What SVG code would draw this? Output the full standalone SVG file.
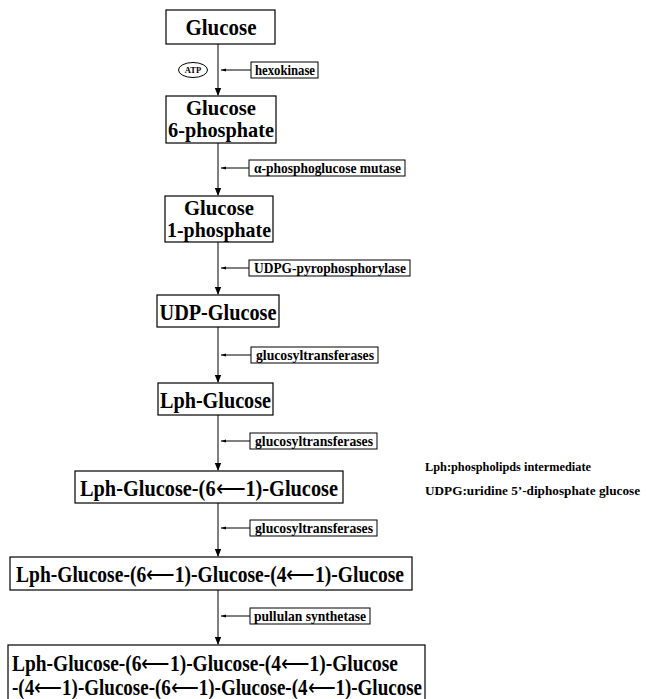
<svg xmlns="http://www.w3.org/2000/svg" width="646" height="699" viewBox="0 0 646 699">
<defs>
<marker id="ah" markerWidth="8" markerHeight="11" refX="7" refY="5" orient="auto" markerUnits="userSpaceOnUse">
<path d="M0,1.8 L8,5 L0,8.2 Z" fill="#000"/>
</marker>
<marker id="sh" markerWidth="6" markerHeight="6" refX="5" refY="3" orient="auto" markerUnits="userSpaceOnUse">
<path d="M0,1.6 L5,3 L0,4.4 Z" fill="#000"/>
</marker>
</defs>
<style>
.box{fill:#fff;stroke:#000;stroke-width:1.2}
.lbl{fill:#fff;stroke:#000;stroke-width:1}
.t{font-family:"Liberation Serif",serif;font-weight:bold;font-size:22.5px;fill:#000;text-anchor:middle}
.t2{font-size:21px}
.a{font-weight:normal}
.s{font-family:"Liberation Serif",serif;font-weight:bold;font-size:14px;fill:#000}
.ln{stroke:#000;stroke-width:1;fill:none}
</style>
<rect width="646" height="699" fill="#fff"/>
<g id="connectors">
<line class="ln" x1="218" y1="44" x2="218" y2="95" marker-end="url(#ah)"/>
<line class="ln" x1="218" y1="143" x2="218" y2="195" marker-end="url(#ah)"/>
<line class="ln" x1="218" y1="242" x2="218" y2="294" marker-end="url(#ah)"/>
<line class="ln" x1="218" y1="327" x2="218" y2="382" marker-end="url(#ah)"/>
<line class="ln" x1="218" y1="415" x2="218" y2="470" marker-end="url(#ah)"/>
<line class="ln" x1="218" y1="503" x2="218" y2="556" marker-end="url(#ah)"/>
<line class="ln" x1="218" y1="590" x2="218" y2="644" marker-end="url(#ah)"/>
<line class="ln" x1="251" y1="70" x2="221" y2="70" marker-end="url(#sh)"/>
<line class="ln" x1="249" y1="168" x2="221" y2="168" marker-end="url(#sh)"/>
<line class="ln" x1="249" y1="268" x2="221" y2="268" marker-end="url(#sh)"/>
<line class="ln" x1="251" y1="355" x2="221" y2="355" marker-end="url(#sh)"/>
<line class="ln" x1="250" y1="441" x2="221" y2="441" marker-end="url(#sh)"/>
<line class="ln" x1="250" y1="528" x2="221" y2="528" marker-end="url(#sh)"/>
<line class="ln" x1="250" y1="616" x2="221" y2="616" marker-end="url(#sh)"/>
</g>
<g id="glucose">
<rect class="box" x="166" y="10" width="109" height="34"/>
<text class="t" x="221" y="35" textLength="71" lengthAdjust="spacingAndGlyphs">Glucose</text>
</g>
<g id="atp">
<ellipse cx="193" cy="70" rx="14.5" ry="7.5" fill="#fff" stroke="#000" stroke-width="1"/>
<text x="193" y="73" font-family="Liberation Serif,serif" font-weight="bold" font-size="8.5" text-anchor="middle">ATP</text>
</g>
<g id="hexokinase">
<rect class="lbl" x="251" y="62" width="67" height="16"/>
<text class="s" x="255" y="75" textLength="60" lengthAdjust="spacingAndGlyphs">hexokinase</text>
</g>
<g id="g6p">
<rect class="box" x="166" y="96" width="110" height="47"/>
<text class="t t2" x="221" y="115" textLength="70" lengthAdjust="spacingAndGlyphs">Glucose</text>
<text class="t t2" x="221" y="137" textLength="106" lengthAdjust="spacingAndGlyphs">6-phosphate</text>
</g>
<g id="mutase">
<rect class="lbl" x="249" y="160" width="156" height="16"/>
<text class="s" x="254" y="173" textLength="147" lengthAdjust="spacingAndGlyphs">α-phosphoglucose mutase</text>
</g>
<g id="g1p">
<rect class="box" x="165" y="196" width="108" height="46"/>
<text class="t t2" x="219" y="215" textLength="70" lengthAdjust="spacingAndGlyphs">Glucose</text>
<text class="t t2" x="219" y="237" textLength="104" lengthAdjust="spacingAndGlyphs">1-phosphate</text>
</g>
<g id="udpgpp">
<rect class="lbl" x="249" y="260" width="161" height="16"/>
<text class="s" x="254" y="273" textLength="152" lengthAdjust="spacingAndGlyphs">UDPG-pyrophosphorylase</text>
</g>
<g id="udpglucose">
<rect class="box" x="157" y="295" width="122" height="32"/>
<text class="t" x="218" y="320" textLength="117" lengthAdjust="spacingAndGlyphs">UDP-Glucose</text>
</g>
<g id="gt1">
<rect class="lbl" x="251" y="347" width="127" height="16"/>
<text class="s" x="256" y="360" textLength="118" lengthAdjust="spacingAndGlyphs">glucosyltransferases</text>
</g>
<g id="lphglucose">
<rect class="box" x="158" y="383" width="115" height="32"/>
<text class="t" x="215.5" y="408" textLength="111" lengthAdjust="spacingAndGlyphs">Lph-Glucose</text>
</g>
<g id="gt2">
<rect class="lbl" x="250" y="433" width="127" height="16"/>
<text class="s" x="255" y="446" textLength="118" lengthAdjust="spacingAndGlyphs">glucosyltransferases</text>
</g>
<g id="lph2">
<rect class="box" x="75" y="471" width="268" height="32"/>
<text class="t" x="80" y="496" style="text-anchor:start" textLength="258" lengthAdjust="spacingAndGlyphs">Lph-Glucose-(6<tspan class="a">⟵</tspan>1)-Glucose</text>
</g>
<g id="gt3">
<rect class="lbl" x="250" y="520" width="127" height="16"/>
<text class="s" x="255" y="533" textLength="118" lengthAdjust="spacingAndGlyphs">glucosyltransferases</text>
</g>
<g id="lph3">
<rect class="box" x="10" y="557" width="402" height="33"/>
<text class="t" x="16" y="582" style="text-anchor:start" textLength="388" lengthAdjust="spacingAndGlyphs">Lph-Glucose-(6<tspan class="a">⟵</tspan>1)-Glucose-(4<tspan class="a">⟵</tspan>1)-Glucose</text>
</g>
<g id="pullulan">
<rect class="lbl" x="250" y="608" width="120" height="16"/>
<text class="s" x="254" y="621" textLength="112" lengthAdjust="spacingAndGlyphs">pullulan synthetase</text>
</g>
<g id="lph4">
<rect class="box" x="8" y="645" width="417" height="60"/>
<text class="t" x="12" y="671" style="text-anchor:start" textLength="386" lengthAdjust="spacingAndGlyphs">Lph-Glucose-(6<tspan class="a">⟵</tspan>1)-Glucose-(4<tspan class="a">⟵</tspan>1)-Glucose</text>
<text class="t" x="12" y="695" style="text-anchor:start" textLength="410" lengthAdjust="spacingAndGlyphs">-(4<tspan class="a">⟵</tspan>1)-Glucose-(6<tspan class="a">⟵</tspan>1)-Glucose-(4<tspan class="a">⟵</tspan>1)-Glucose</text>
</g>
<g id="legend">
<text class="s" x="425" y="471" style="font-size:13.5px" textLength="166" lengthAdjust="spacingAndGlyphs">Lph:phospholipds intermediate</text>
<text class="s" x="425" y="495" style="font-size:13.5px" textLength="215" lengthAdjust="spacingAndGlyphs">UDPG:uridine 5’-diphosphate glucose</text>
</g>
</svg>
